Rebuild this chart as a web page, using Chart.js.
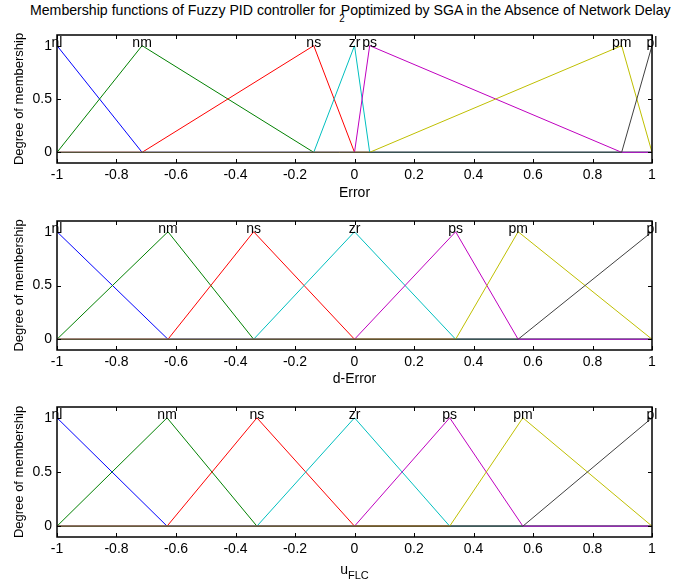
<!DOCTYPE html>
<html lang="en">
<head>
    <meta charset="UTF-8">
    <title>Membership functions of Fuzzy PID controller</title>
    <script src="https://cdn.jsdelivr.net/npm/chart.js"></script>
    <style>
        body { margin: 0; background: #fff; width: 673px; height: 584px; position: relative; overflow: hidden;
               font-family: "Liberation Sans", Arial, sans-serif; }
        canvas { position: absolute; left: 0; }
        #mainTitle { position: absolute; left: 30px; top: 2px; font-size: 14.5px; white-space: nowrap;
                     transform-origin: 0 0; color: #000; }
        #mainTitle .sub { font-size: 10px; position: relative; top: 7px; margin-right: -4px; }
    </style>
</head>
<body>

    <div id="mainTitle">Membership functions of Fuzzy PID controller for <span class="sub">2</span>Poptimized by SGA in the Absence of Network Delay</div>

    <canvas id="chartError" width="673" height="202" style="top:0px"></canvas>
    <canvas id="chartDError" width="673" height="186" style="top:202px"></canvas>
    <canvas id="chartOutput" width="673" height="196" style="top:388px"></canvas>

    <script>
        // fuzzy set names, same for all three variables
        const mfNames = ["nl", "nm", "ns", "zr", "ps", "pm", "pl"];
        const mfColors = ["#0000ff", "#008000", "#ff0000", "#00bfbf", "#bf00bf", "#bfbf00", "#404040"];

        // peak of each triangular set (the neighbouring peaks are its feet)
        const errorPeaks  = [-1, -0.714, -0.137, 0, 0.051, 0.898, 1];
        const dErrorPeaks = [-1, -0.627, -0.339, 0, 0.340, 0.550, 1];
        const uFlcPeaks   = [-1, -0.630, -0.328, 0, 0.320, 0.566, 1];

        const xTickValues = [-1, -0.8, -0.6, -0.4, -0.2, 0, 0.2, 0.4, 0.6, 0.8, 1];
        const yTickValues = [0, 0.5, 1];

        const FONT = '"Liberation Sans", Arial, sans-serif';

        // squeeze the title into the width of the figure
        let titleEl = document.getElementById("mainTitle");
        titleEl.style.transform = "scaleX(" + (641 / titleEl.scrollWidth) + ")";

        // triangle i over the whole universe [-1, 1]
        function mfPoints(peaks, i) {
            let pts = [];
            let last = peaks.length - 1;
            if (i > 0) pts.push({ x: peaks[0], y: 0 }, { x: peaks[i - 1], y: 0 });
            pts.push({ x: peaks[i], y: 1 });
            if (i < last) pts.push({ x: peaks[i + 1], y: 0 }, { x: peaks[last], y: 0 });
            return pts;
        }

        // box, inward ticks and set names
        const framePlugin = {
            id: "mfFrame",
            afterDatasetsDraw(chart, args, opts) {
                let ctx = chart.ctx;
                let a = chart.chartArea;
                let xs = chart.scales.x, ys = chart.scales.y;
                ctx.save();
                ctx.strokeStyle = "#000";
                ctx.lineWidth = 1;
                xTickValues.forEach(v => {
                    let px = Math.round(xs.getPixelForValue(v)) + 0.5;
                    ctx.beginPath();
                    ctx.moveTo(px, a.bottom); ctx.lineTo(px, a.bottom - 4);
                    ctx.moveTo(px, a.top); ctx.lineTo(px, a.top + 4);
                    ctx.stroke();
                });
                yTickValues.forEach(v => {
                    let py = Math.round(ys.getPixelForValue(v)) + 0.5;
                    ctx.beginPath();
                    ctx.moveTo(a.left, py); ctx.lineTo(a.left + 4, py);
                    ctx.moveTo(a.right, py); ctx.lineTo(a.right - 4, py);
                    ctx.stroke();
                });
                ctx.lineWidth = 1.5;
                ctx.strokeRect(a.left, a.top, a.right - a.left, a.bottom - a.top);

                ctx.fillStyle = "#000";
                ctx.font = "14px " + FONT;
                ctx.textAlign = "center";
                ctx.textBaseline = "alphabetic";
                let peaks = opts.peaks;
                mfNames.forEach((name, i) => {
                    ctx.fillText(name, xs.getPixelForValue(peaks[i]), ys.getPixelForValue(1) + 1);
                });

                // subscripted axis label
                if (opts.subLabel) {
                    let cx = (a.left + a.right) / 2;
                    let base = chart.height - 10;
                    ctx.font = "14px " + FONT;
                    let w1 = ctx.measureText(opts.subLabel[0]).width;
                    ctx.font = "11px " + FONT;
                    let w2 = ctx.measureText(opts.subLabel[1]).width;
                    let x0 = cx - (w1 + w2) / 2;
                    ctx.textAlign = "left";
                    ctx.font = "14px " + FONT;
                    ctx.fillText(opts.subLabel[0], x0, base);
                    ctx.font = "11px " + FONT;
                    ctx.fillText(opts.subLabel[1], x0 + w1, base + 5);
                }
                ctx.restore();
            }
        };

        function buildChart(canvasId, peaks, padTop, xHeight, xTitle, subLabel) {
            let datasets = mfNames.map((name, i) => ({
                label: name,
                data: mfPoints(peaks, i),
                borderColor: mfColors[i],
                borderWidth: 1,
                pointRadius: 0,
                showLine: true,
                fill: false,
                tension: 0,
                order: mfNames.length - i
            }));

            new Chart(document.getElementById(canvasId).getContext("2d"), {
                type: "scatter",
                data: { datasets: datasets },
                options: {
                    responsive: false,
                    animation: false,
                    devicePixelRatio: 1,
                    layout: { padding: { top: padTop, right: 21, left: 0, bottom: 0 } },
                    plugins: {
                        legend: { display: false },
                        tooltip: { enabled: false },
                        mfFrame: { peaks: peaks, subLabel: subLabel }
                    },
                    scales: {
                        x: {
                            type: "linear",
                            min: -1, max: 1,
                            border: { display: false },
                            grid: { display: false, drawTicks: false },
                            afterBuildTicks: s => { s.ticks = xTickValues.map(v => ({ value: v })); },
                            afterFit: s => { s.height = xHeight; },
                            ticks: {
                                padding: 4,
                                color: "#000",
                                font: { family: FONT, size: 14 },
                                maxRotation: 0,
                                autoSkip: false,
                                callback: v => String(Math.round(v * 10) / 10)
                            },
                            title: {
                                display: !!xTitle,
                                text: xTitle,
                                color: "#000",
                                font: { family: FONT, size: 14 },
                                padding: { top: 0, bottom: 0 }
                            }
                        },
                        y: {
                            min: -0.1, max: 1.1,
                            border: { display: false },
                            grid: { display: false, drawTicks: false },
                            afterBuildTicks: s => { s.ticks = yTickValues.map(v => ({ value: v })); },
                            afterFit: s => { s.width = 57; },
                            ticks: {
                                padding: 5,
                                color: "#000",
                                font: { family: FONT, size: 14 },
                                callback: v => String(v)
                            },
                            title: {
                                display: true,
                                text: "Degree of membership",
                                color: "#000",
                                font: { family: FONT, size: 13 },
                                padding: { top: 12, bottom: 0 }
                            }
                        }
                    }
                },
                plugins: [framePlugin]
            });
        }

        buildChart("chartError", errorPeaks, 35, 39, "Error", null);
        buildChart("chartDError", dErrorPeaks, 19, 38, "d-Error", null);
        buildChart("chartOutput", uFlcPeaks, 19, 47, "", ["u", "FLC"]);
    </script>

</body>
</html>
